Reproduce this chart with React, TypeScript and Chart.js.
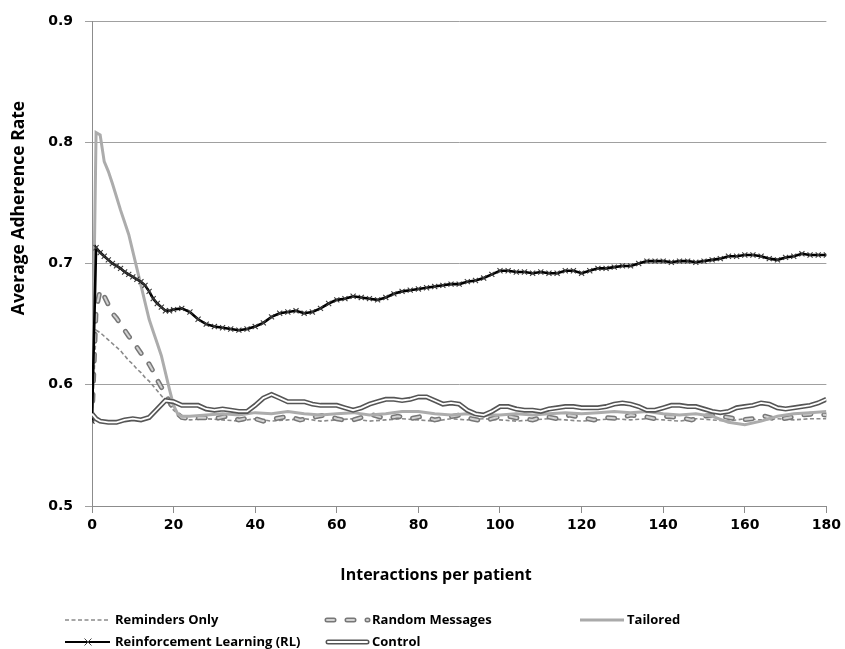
import React, { useEffect, useRef } from "react";
import { Chart, registerables } from "chart.js";

Chart.register(...registerables);

// ---- Axis / text content ----
const X_TITLE = "Interactions per patient";
const Y_TITLE = "Average Adherence Rate";
const LEGEND_LABELS = [
  "Reminders Only",
  "Random Messages",
  "Tailored",
  "Reinforcement Learning (RL)",
  "Control",
];

// ---- Series values: [interaction, adherence] ----
const remindersOnly: [number, number][] = [
  [0, 0.570], [1, 0.645], [2, 0.643], [3, 0.640], [4, 0.637], [5, 0.634], [6, 0.631], [7, 0.628],
  [8, 0.624], [9, 0.620], [10, 0.617], [11, 0.613], [12, 0.610], [13, 0.606], [14, 0.603], [15, 0.599],
  [16, 0.595], [17, 0.591], [18, 0.587], [19, 0.583], [20, 0.579], [21, 0.576], [22, 0.573],
  [24, 0.571], [28, 0.572], [32, 0.571], [36, 0.570], [40, 0.572], [44, 0.570], [48, 0.571], [52, 0.572],
  [56, 0.570], [60, 0.571], [64, 0.572], [68, 0.570], [72, 0.571], [76, 0.572], [80, 0.571], [84, 0.570],
  [88, 0.572], [92, 0.571], [96, 0.572], [100, 0.571], [104, 0.570], [108, 0.571], [112, 0.572], [116, 0.571],
  [120, 0.570], [124, 0.571], [128, 0.572], [132, 0.571], [136, 0.572], [140, 0.571], [144, 0.570], [148, 0.572],
  [152, 0.571], [156, 0.570], [160, 0.572], [164, 0.571], [168, 0.572], [172, 0.571], [176, 0.572], [180, 0.572],
];

const randomMessages: [number, number][] = [
  [0, 0.570], [1, 0.662], [2, 0.678], [3, 0.673], [4, 0.666], [5, 0.659], [6, 0.655], [7, 0.650],
  [8, 0.645], [9, 0.640], [10, 0.636], [11, 0.631], [12, 0.626], [13, 0.622], [14, 0.617], [15, 0.611],
  [16, 0.604], [17, 0.598], [18, 0.592], [19, 0.586], [20, 0.580], [21, 0.576], [22, 0.573],
  [24, 0.572], [27, 0.573], [30, 0.572], [33, 0.574], [36, 0.571], [39, 0.573], [42, 0.570], [45, 0.572],
  [48, 0.574], [51, 0.571], [54, 0.573], [57, 0.575], [60, 0.572], [63, 0.570], [66, 0.573], [69, 0.575],
  [72, 0.572], [75, 0.574], [78, 0.572], [81, 0.574], [84, 0.571], [87, 0.573], [90, 0.575], [93, 0.572],
  [96, 0.570], [99, 0.573], [102, 0.574], [105, 0.572], [108, 0.571], [111, 0.574], [114, 0.572], [117, 0.575],
  [120, 0.573], [123, 0.571], [126, 0.573], [129, 0.572], [132, 0.575], [135, 0.574], [138, 0.572], [141, 0.574],
  [144, 0.573], [147, 0.571], [150, 0.574], [153, 0.575], [156, 0.573], [159, 0.571], [162, 0.572], [165, 0.574],
  [168, 0.571], [171, 0.573], [174, 0.575], [177, 0.576], [180, 0.575],
];

const tailored: [number, number][] = [
  [0, 0.572], [1, 0.808], [2, 0.806], [3, 0.784], [4, 0.776], [5, 0.766], [6, 0.755], [7, 0.744],
  [8, 0.734], [9, 0.724], [10, 0.710], [11, 0.696], [12, 0.682], [13, 0.668], [14, 0.654], [15, 0.644],
  [16, 0.634], [17, 0.624], [18, 0.610], [19, 0.596], [20, 0.583], [21, 0.576], [22, 0.574],
  [24, 0.574], [28, 0.575], [32, 0.576], [36, 0.575], [40, 0.577], [44, 0.576], [48, 0.578], [52, 0.576],
  [56, 0.575], [60, 0.576], [64, 0.577], [68, 0.575], [72, 0.576], [76, 0.578], [80, 0.578], [84, 0.576],
  [88, 0.575], [92, 0.576], [96, 0.575], [100, 0.575], [104, 0.576], [108, 0.575], [112, 0.576], [116, 0.577],
  [120, 0.576], [124, 0.577], [128, 0.578], [132, 0.577], [136, 0.578], [140, 0.576], [144, 0.575], [148, 0.576],
  [152, 0.574], [156, 0.569], [160, 0.567], [164, 0.570], [168, 0.574], [172, 0.576], [176, 0.577], [180, 0.578],
];

const reinforcementLearning: [number, number][] = [
  [0, 0.570], [1, 0.713], [2, 0.709], [3, 0.706], [4, 0.703], [5, 0.700], [6, 0.698], [7, 0.696],
  [8, 0.693], [9, 0.691], [10, 0.689], [11, 0.687], [12, 0.685], [13, 0.682], [14, 0.677], [15, 0.671],
  [16, 0.667], [17, 0.664], [18, 0.661], [19, 0.661], [20, 0.662],
  [22, 0.663], [24, 0.660], [26, 0.654], [28, 0.650], [30, 0.648], [32, 0.647], [34, 0.646], [36, 0.645],
  [38, 0.646], [40, 0.648], [42, 0.651], [44, 0.656], [46, 0.659], [48, 0.660], [50, 0.661], [52, 0.659],
  [54, 0.660], [56, 0.663], [58, 0.667], [60, 0.670], [62, 0.671], [64, 0.673], [66, 0.672], [68, 0.671],
  [70, 0.670], [72, 0.672], [74, 0.675], [76, 0.677], [78, 0.678], [80, 0.679], [82, 0.680], [84, 0.681],
  [86, 0.682], [88, 0.683], [90, 0.683], [92, 0.685], [94, 0.686], [96, 0.688], [98, 0.691], [100, 0.694],
  [102, 0.694], [104, 0.693], [106, 0.693], [108, 0.692], [110, 0.693], [112, 0.692], [114, 0.692], [116, 0.694],
  [118, 0.694], [120, 0.692], [122, 0.694], [124, 0.696], [126, 0.696], [128, 0.697], [130, 0.698], [132, 0.698],
  [134, 0.700], [136, 0.702], [138, 0.702], [140, 0.702], [142, 0.701], [144, 0.702], [146, 0.702], [148, 0.701],
  [150, 0.702], [152, 0.703], [154, 0.704], [156, 0.706], [158, 0.706], [160, 0.707], [162, 0.707], [164, 0.706],
  [166, 0.704], [168, 0.703], [170, 0.705], [172, 0.706], [174, 0.708], [176, 0.707], [178, 0.707], [180, 0.707],
];

const control: [number, number][] = [
  [0, 0.576], [1, 0.572], [2, 0.570], [4, 0.569], [6, 0.569], [8, 0.571], [10, 0.572], [12, 0.571],
  [14, 0.573], [16, 0.580], [18, 0.587], [20, 0.586], [22, 0.583], [24, 0.583], [26, 0.583], [28, 0.580],
  [30, 0.579], [32, 0.580], [34, 0.579], [36, 0.578], [38, 0.578], [40, 0.583], [42, 0.589], [44, 0.592],
  [46, 0.589], [48, 0.586], [50, 0.586], [52, 0.586], [54, 0.584], [56, 0.583], [58, 0.583], [60, 0.583],
  [62, 0.581], [64, 0.579], [66, 0.581], [68, 0.584], [70, 0.586], [72, 0.588], [74, 0.588], [76, 0.587],
  [78, 0.588], [80, 0.590], [82, 0.590], [84, 0.587], [86, 0.584], [88, 0.585], [90, 0.584], [92, 0.579],
  [94, 0.576], [96, 0.575], [98, 0.578], [100, 0.582], [102, 0.582], [104, 0.580], [106, 0.579], [108, 0.579],
  [110, 0.578], [112, 0.580], [114, 0.581], [116, 0.582], [118, 0.582], [120, 0.581], [122, 0.581], [124, 0.581],
  [126, 0.582], [128, 0.584], [130, 0.585], [132, 0.584], [134, 0.582], [136, 0.579], [138, 0.579], [140, 0.581],
  [142, 0.583], [144, 0.583], [146, 0.582], [148, 0.582], [150, 0.580], [152, 0.578], [154, 0.577], [156, 0.578],
  [158, 0.581], [160, 0.582], [162, 0.583], [164, 0.585], [166, 0.584], [168, 0.581], [170, 0.580], [172, 0.581],
  [174, 0.582], [176, 0.583], [178, 0.585], [180, 0.588],
];

// ---- Axis settings ----
const X_MIN = 0;
const X_MAX = 180;
const X_STEP = 20;
const Y_MIN = 0.5;
const Y_MAX = 0.9;
const Y_STEP = 0.1;

const toPoints = (arr: [number, number][]) => arr.map(([x, y]) => ({ x, y }));

const TICK_FONT = { family: "'DejaVu Sans', sans-serif", size: 14, weight: "bold" as const };
const X_TITLE_FONT = "bold 16px 'Open Sans', 'DejaVu Sans', sans-serif";
const Y_TITLE_FONT = "bold 17.5px 'Open Sans', 'DejaVu Sans', sans-serif";
const LEGEND_FONT = "bold 13px 'Open Sans', 'DejaVu Sans', sans-serif";

const overlayPlugin = {
  id: "overlayText",
  afterDraw(chart: any) {
    const ctx: CanvasRenderingContext2D = chart.ctx;
    ctx.save();
    ctx.fillStyle = "#000";
    ctx.textBaseline = "middle";

    // axis titles
    ctx.font = X_TITLE_FONT;
    ctx.textAlign = "center";
    ctx.fillText(X_TITLE, 436, 575);
    ctx.save();
    ctx.font = Y_TITLE_FONT;
    ctx.translate(19.5, 208);
    ctx.rotate(-Math.PI / 2);
    ctx.fillText(Y_TITLE, 0, 0);
    ctx.restore();

    // legend
    const row1 = 620;
    const row2 = 642;
    const seg = (x1: number, x2: number, y: number, color: string, w: number, dash: number[], cap: CanvasLineCap) => {
      ctx.beginPath();
      ctx.strokeStyle = color;
      ctx.lineWidth = w;
      ctx.lineCap = cap;
      ctx.setLineDash(dash);
      ctx.moveTo(x1, y);
      ctx.lineTo(x2, y);
      ctx.stroke();
      ctx.setLineDash([]);
    };
    // Reminders Only
    seg(65, 110, row1, "#8a8a8a", 1.6, [4, 2.5], "butt");
    // Random Messages
    seg(327, 368, row1, "#777", 5, [7, 13], "round");
    seg(327, 368, row1, "#d2d2d2", 2, [7, 13], "round");
    // Tailored
    seg(580, 624, row1, "#aaaaaa", 3, [], "butt");
    // RL
    seg(65, 110, row2, "#000", 2.2, [], "butt");
    ctx.beginPath();
    ctx.strokeStyle = "#444";
    ctx.lineWidth = 1;
    ctx.moveTo(84.5, row2 - 3.5);
    ctx.lineTo(91.5, row2 + 3.5);
    ctx.moveTo(84.5, row2 + 3.5);
    ctx.lineTo(91.5, row2 - 3.5);
    ctx.stroke();
    // Control
    seg(328, 367, row2, "#555", 5, [], "round");
    seg(328, 367, row2, "#fff", 2, [], "round");

    ctx.font = LEGEND_FONT;
    ctx.textAlign = "left";
    ctx.fillStyle = "#000";
    ctx.fillText(LEGEND_LABELS[0], 115, row1);
    ctx.fillText(LEGEND_LABELS[1], 372, row1);
    ctx.fillText(LEGEND_LABELS[2], 627, row1);
    ctx.fillText(LEGEND_LABELS[3], 115, row2);
    ctx.fillText(LEGEND_LABELS[4], 372, row2);
    ctx.restore();
  },
};

export default function App() {
  const ref = useRef<HTMLCanvasElement | null>(null);

  useEffect(() => {
    if (!ref.current) return;
    const chart = new Chart(ref.current, {
      type: "line",
      data: {
        datasets: [
          {
            label: "Control (inner)",
            data: toPoints(control),
            borderColor: "#ffffff",
            borderWidth: 1.8,
            pointRadius: 0,
            order: 0,
          },
          {
            label: LEGEND_LABELS[4],
            data: toPoints(control),
            borderColor: "#555555",
            borderWidth: 5,
            pointRadius: 0,
            order: 1,
          },
          {
            label: LEGEND_LABELS[3],
            data: toPoints(reinforcementLearning),
            borderColor: "#000000",
            borderWidth: 2.6,
            pointStyle: "crossRot",
            pointRadius: 3.6,
            pointBorderColor: "#3a3a3a",
            pointBorderWidth: 1.1,
            order: 2,
          },
          {
            label: LEGEND_LABELS[2],
            data: toPoints(tailored),
            borderColor: "#acacac",
            borderWidth: 3,
            pointRadius: 0,
            order: 3,
          },
          {
            label: "Random (inner)",
            data: toPoints(randomMessages),
            borderColor: "#d2d2d2",
            borderWidth: 2,
            borderDash: [7, 13],
            borderCapStyle: "round",
            pointRadius: 0,
            order: 4,
          },
          {
            label: LEGEND_LABELS[1],
            data: toPoints(randomMessages),
            borderColor: "#777777",
            borderWidth: 5,
            borderDash: [7, 13],
            borderCapStyle: "round",
            pointRadius: 0,
            order: 5,
          },
          {
            label: LEGEND_LABELS[0],
            data: toPoints(remindersOnly),
            borderColor: "#8a8a8a",
            borderWidth: 1.6,
            borderDash: [4, 2.5],
            pointRadius: 0,
            order: 6,
          },
        ],
      },
      options: {
        responsive: false,
        animation: false,
        devicePixelRatio: 1,
        layout: { padding: { left: 0, right: 18, top: 21, bottom: 0 } },
        elements: { line: { tension: 0 } },
        plugins: {
          legend: { display: false },
          tooltip: { enabled: false },
        },
        scales: {
          x: {
            type: "linear",
            min: X_MIN,
            max: X_MAX,
            ticks: {
              stepSize: X_STEP,
              color: "#000",
              font: TICK_FONT,
              padding: 4,
              maxRotation: 0,
            },
            grid: {
              drawOnChartArea: false,
              drawTicks: true,
              tickLength: 7,
              color: "#8c8c8c",
            },
            border: { color: "#8c8c8c" },
            afterFit: (s: any) => {
              s.height = 143;
            },
          },
          y: {
            type: "linear",
            min: Y_MIN,
            max: Y_MAX,
            ticks: {
              stepSize: Y_STEP,
              color: "#000",
              font: TICK_FONT,
              padding: 12,
              callback: (v: any) => Number(v).toFixed(1),
            },
            grid: {
              color: "#a0a0a0",
              tickLength: 7,
            },
            border: { color: "#8c8c8c" },
            afterFit: (s: any) => {
              s.width = 92;
            },
          },
        },
      },
      plugins: [overlayPlugin],
    } as any);
    return () => chart.destroy();
  }, []);

  return (
    <div style={{ position: "absolute", left: 0, top: 0, width: 845, height: 649, background: "#fff" }}>
      <canvas ref={ref} width={845} height={649} style={{ width: 845, height: 649, display: "block" }} />
    </div>
  );
}
